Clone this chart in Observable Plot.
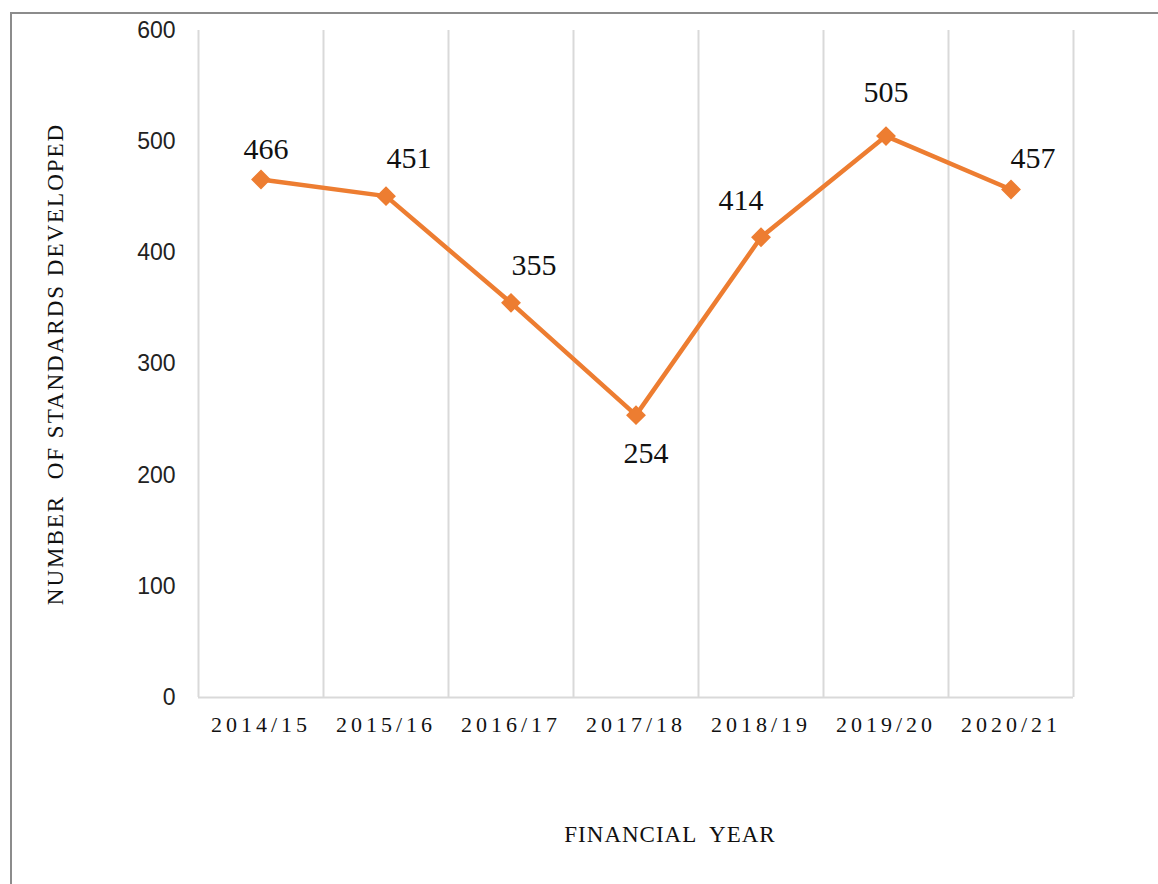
<!DOCTYPE html>
<html>
<head>
<meta charset="utf-8">
<script src="https://cdn.jsdelivr.net/npm/d3@7"></script>
<script src="https://cdn.jsdelivr.net/npm/@observablehq/plot@0.6"></script>
<style>
  html, body { margin: 0; padding: 0; background: #fff; }
  #wrap { position: relative; width: 1158px; height: 884px; overflow: hidden; }
  #frame { position: absolute; left: 10px; top: 12px; right: -10px; bottom: -10px;
           border-top: 2px solid #8c8c8c; border-left: 2px solid #8c8c8c; }
  #chart { position: absolute; left: 0; top: 0; }
</style>
</head>
<body>
<div id="wrap"><div id="frame"></div><div id="chart"></div></div>
<script>
// ---- data ----
const years = ["2014/15", "2015/16", "2016/17", "2017/18", "2018/19", "2019/20", "2020/21"];
const standards = [466, 451, 355, 254, 414, 505, 457];
const yTicks = [0, 100, 200, 300, 400, 500, 600];
const xTitle = "FINANCIAL  YEAR";
const yTitle = "NUMBER  OF STANDARDS DEVELOPED";

// ---- rendering ----
const rows = years.map((y, i) => ({year: y, i, value: standards[i]}));
const edges = d3.range(-0.5, years.length, 1);
// data label placement (style), relative to each point
const labelDx = [5, 23, 23, 10, -20, 0, 22];
const labelDy = [-30, -38, -37, 38, -37, -44, -31];

const orange = "#ED7D31";
const grid = "#d9d9d9";
const serif = "Liberation Serif, Times New Roman, serif";

const chart = Plot.plot({
  width: 1158,
  height: 884,
  marginLeft: 198,
  marginRight: 85,
  marginTop: 30,
  marginBottom: 187,
  style: {background: "transparent", overflow: "visible"},
  x: {type: "linear", domain: [-0.5, years.length - 0.5]},
  y: {domain: [0, 600]},
  marks: [
    Plot.ruleX(edges, {x: d => d, y1: 0, y2: 600, stroke: grid, strokeWidth: 2}),
    Plot.ruleY([0], {stroke: grid, strokeWidth: 2}),
    Plot.axisY({ticks: yTicks, tickSize: 0, tickPadding: 23, label: null,
      fontSize: 23, fontFamily: "Liberation Sans, Arial, sans-serif", fill: "#222"}),
    Plot.axisX({ticks: d3.range(years.length), tickFormat: i => years[i], tickSize: 0,
      tickPadding: 19, label: null, fontSize: 22, fill: "#111", fontFamily: serif}),
    Plot.line(rows, {x: "i", y: "value", stroke: orange, strokeWidth: 4.5}),
    Plot.dot(rows, {x: "i", y: "value", symbol: "diamond2", r: 8, fill: orange, stroke: orange}),
    ...rows.map((r, k) => Plot.text([r], {x: "i", y: "value", text: d => String(d.value),
      dx: labelDx[k], dy: labelDy[k], lineAnchor: "middle", fontSize: 30, fill: "#111",
      fontFamily: serif})),
    Plot.text([yTitle], {frameAnchor: "left", dx: -143, rotate: -90, textAnchor: "middle",
      lineAnchor: "middle", fontSize: 23, fill: "#111", fontFamily: serif, className: "ytitle"}),
    Plot.text([xTitle], {frameAnchor: "bottom", dx: 34, dy: 137, textAnchor: "middle",
      lineAnchor: "middle", fontSize: 23, fill: "#111", fontFamily: serif, className: "xtitle"})
  ]
});
document.getElementById("chart").appendChild(chart);
const svg = d3.select(chart);
svg.selectAll("[aria-label='x-axis tick label'] text").style("letter-spacing", "4px");
svg.selectAll(".ytitle text").style("letter-spacing", "2px").style("white-space", "pre");
svg.selectAll(".xtitle text").style("letter-spacing", "1px").style("white-space", "pre");
</script>
</body>
</html>
